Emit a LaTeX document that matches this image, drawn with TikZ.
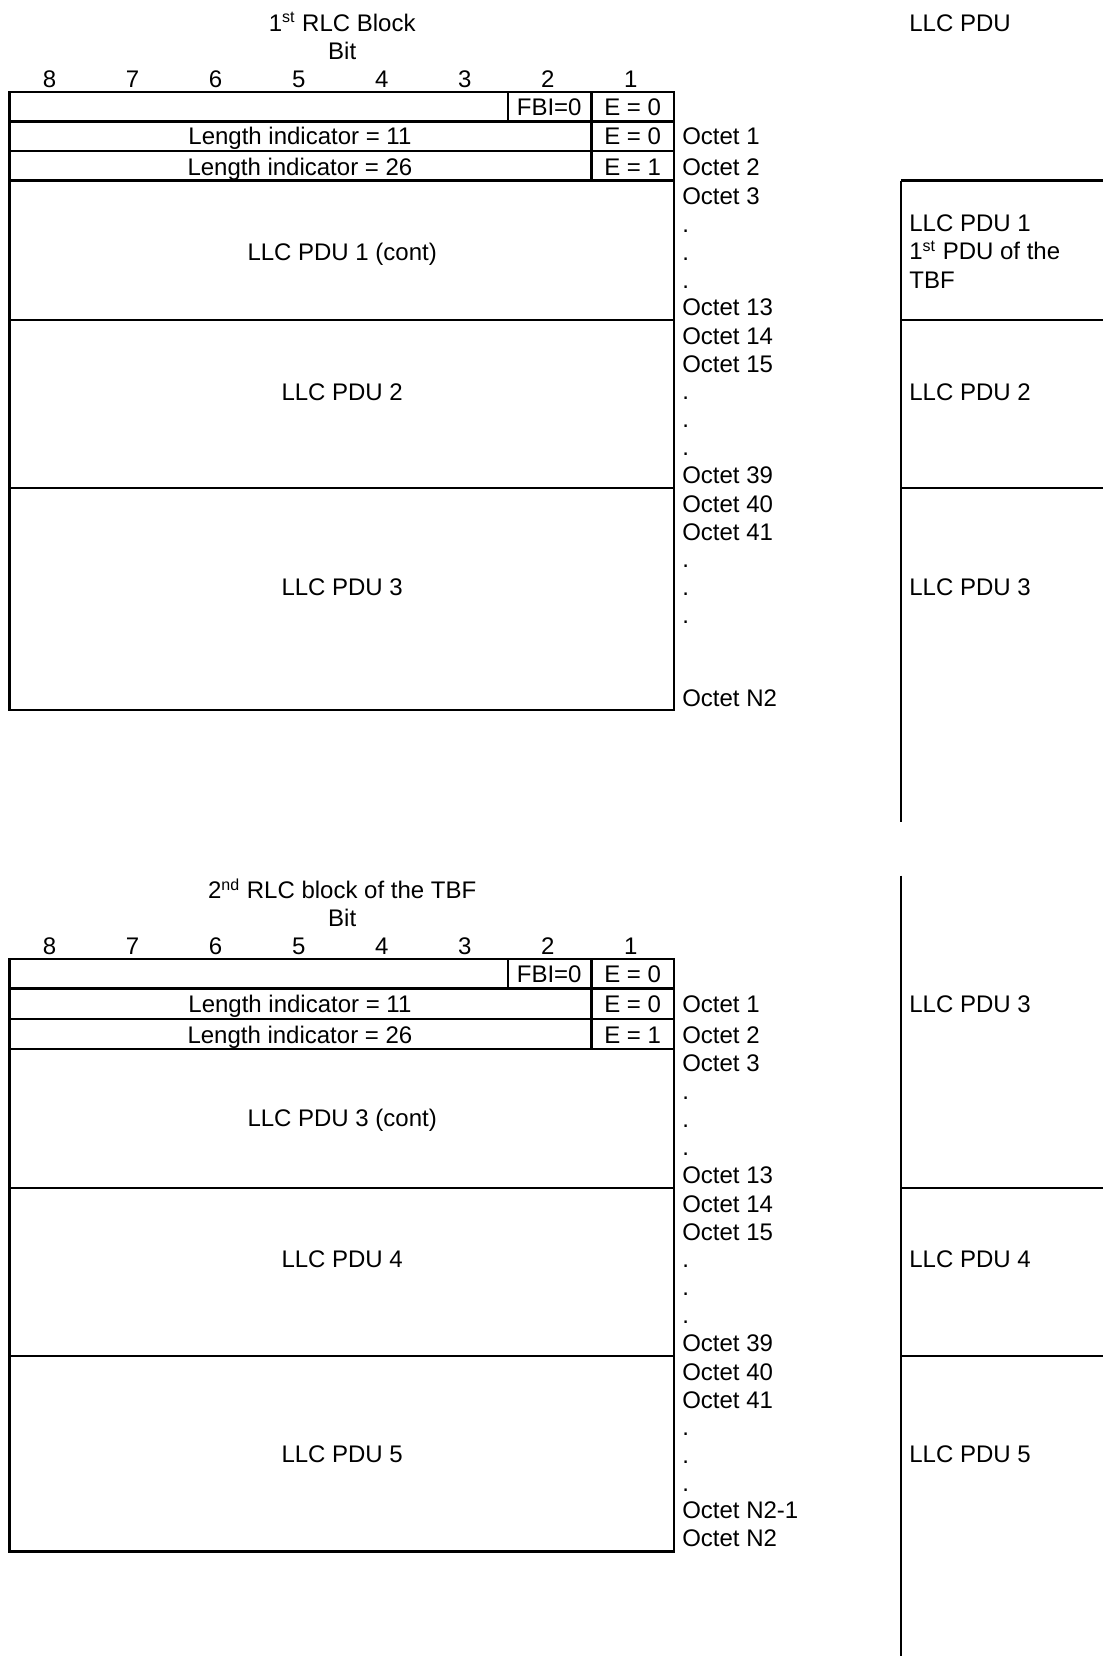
\documentclass[tikz,border=0pt]{standalone}
\usepackage{fontspec}
\setmainfont{Liberation Sans}

\begin{document}
\begin{tikzpicture}[x=0.52825pt, y=-0.52825pt, line width=1.1pt,
    txt/.style={font=\fontsize{12}{14}\selectfont, inner sep=0pt, anchor=base},
    lefttxt/.style={txt, anchor=base west}]

\useasboundingbox (0,0) rectangle (1044,1568);

% First RLC block: headings
\node[txt] (t1title) at (324,30) {1\textsuperscript{st} RLC Block};
\node[txt] (t1bit) at (324,56) {Bit};
\foreach \b [count=\i from 0] in {8,7,6,5,4,3,2,1}
    \node[txt] (t1b\b) at (47+78.6*\i,83) {\b};

% First RLC block: table
\draw (9,87) rectangle (638,672);
\foreach \y in {115,143,171,303,462}
    \draw (9,\y) -- (638,\y);
\draw (481,87) -- (481,115);
\draw (560,87) -- (560,171);

\node[txt] (t1fbi) at (520,109) {FBI=0};
\node[txt] (t1e0) at (599,109) {E = 0};
\node[txt] (t1li1) at (284,137) {Length indicator = 11};
\node[txt] (t1e1) at (599,137) {E = 0};
\node[txt] (t1li2) at (284,166) {Length indicator = 26};
\node[txt] (t1e2) at (599,166) {E = 1};
\node[txt] (t1pdu1) at (324,247) {LLC PDU 1 (cont)};
\node[txt] (t1pdu2) at (324,379) {LLC PDU 2};
\node[txt] (t1pdu3) at (324,564) {LLC PDU 3};

% First RLC block: octet numbers
\node[lefttxt] (t1oct1) at (645,137) {Octet 1};
\node[lefttxt] (t1oct2) at (645,166) {Octet 2};
\foreach \t [count=\i from 0] in {Octet 3,.,.,.,Octet 13}
    \node[lefttxt] (t1ra\i) at (645,194+26.3*\i) {\t};
\foreach \t [count=\i from 0] in {Octet 14,Octet 15,.,.,.,Octet 39}
    \node[lefttxt] (t1rb\i) at (645,326+26.3*\i) {\t};
\foreach \t [count=\i from 0] in {Octet 40,Octet 41,.,.,.,{},{},Octet N2}
    \node[lefttxt] (t1rc\i) at (645,485+26.3*\i) {\t};

% LLC PDU column, upper part
\node[lefttxt] (llchead) at (860,30) {LLC PDU};
\draw (853,171) -- (1044,171);
\draw (853,303) -- (1044,303);
\draw (853,462) -- (1044,462);
\draw (853,171) -- (853,778);
\node[lefttxt] (llc1a) at (860,219) {LLC PDU 1};
\node[lefttxt] (llc1b) at (860,246) {1\textsuperscript{st} PDU of the};
\node[lefttxt] (llc1c) at (860,273) {TBF};
\node[lefttxt] (llc2) at (860,379) {LLC PDU 2};
\node[lefttxt] (llc3) at (860,564) {LLC PDU 3};

% Second RLC block: headings
\node[txt] (t2title) at (324,851) {2\textsuperscript{nd} RLC block of the TBF};
\node[txt] (t2bit) at (324,877) {Bit};
\foreach \b [count=\i from 0] in {8,7,6,5,4,3,2,1}
    \node[txt] (t2b\b) at (47+78.6*\i,904) {\b};

% Second RLC block: table
\draw (9,908) rectangle (638,1469);
\foreach \y in {936,965,993,1125,1284}
    \draw (9,\y) -- (638,\y);
\draw (481,908) -- (481,936);
\draw (560,908) -- (560,993);

\node[txt] (t2fbi) at (520,930) {FBI=0};
\node[txt] (t2e0) at (599,930) {E = 0};
\node[txt] (t2li1) at (284,959) {Length indicator = 11};
\node[txt] (t2e1) at (599,959) {E = 0};
\node[txt] (t2li2) at (284,988) {Length indicator = 26};
\node[txt] (t2e2) at (599,988) {E = 1};
\node[txt] (t2pdu3) at (324,1067) {LLC PDU 3 (cont)};
\node[txt] (t2pdu4) at (324,1200) {LLC PDU 4};
\node[txt] (t2pdu5) at (324,1385) {LLC PDU 5};

% Second RLC block: octet numbers
\node[lefttxt] (t2oct1) at (645,959) {Octet 1};
\node[lefttxt] (t2oct2) at (645,988) {Octet 2};
\foreach \t [count=\i from 0] in {Octet 3,.,.,.,Octet 13}
    \node[lefttxt] (t2ra\i) at (645,1015+26.3*\i) {\t};
\foreach \t [count=\i from 0] in {Octet 14,Octet 15,.,.,.,Octet 39}
    \node[lefttxt] (t2rb\i) at (645,1148+26.3*\i) {\t};
\foreach \t [count=\i from 0] in {Octet 40,Octet 41,.,.,.,Octet N2-1,Octet N2}
    \node[lefttxt] (t2rc\i) at (645,1307+26.2*\i) {\t};

% LLC PDU column, lower part
\draw (853,829) -- (853,1568);
\draw (853,1125) -- (1044,1125);
\draw (853,1284) -- (1044,1284);
\node[lefttxt] (llc3b) at (860,959) {LLC PDU 3};
\node[lefttxt] (llc4) at (860,1200) {LLC PDU 4};
\node[lefttxt] (llc5) at (860,1385) {LLC PDU 5};

\end{tikzpicture}
\end{document}
